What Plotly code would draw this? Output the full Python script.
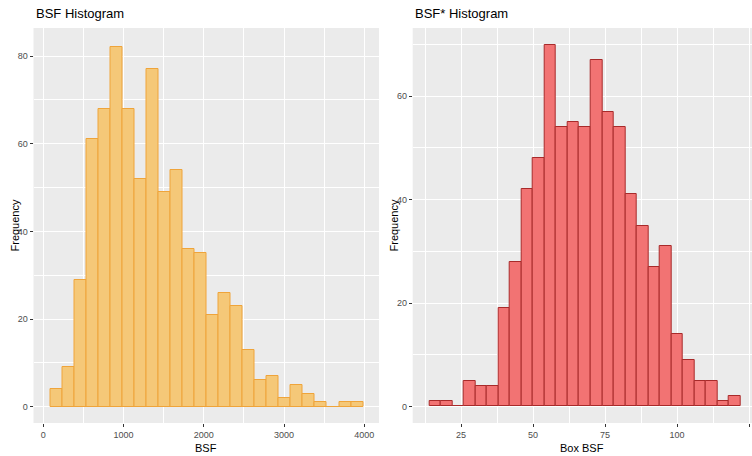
import plotly.graph_objects as go

# ---- data ----
bsf_bin_start = 85
bsf_bin_width = 150
bsf_counts = [4, 9, 29, 61, 68, 82, 68, 52, 77, 49, 54, 36, 35, 21, 26, 23,
              13, 6, 7, 2, 5, 3, 1, 0, 1, 1]

box_bin_start = 14
box_bin_width = 4
box_counts = [1, 1, 0, 5, 4, 4, 19, 28, 42, 48, 70, 54, 55, 54, 67, 57, 54,
              41, 35, 27, 31, 14, 9, 5, 5, 1, 2]

left_title = "BSF Histogram"
right_title = "BSF* Histogram"
left_xlabel = "BSF"
right_xlabel = "Box BSF"
ylabel = "Frequency"

bsf_x = [bsf_bin_start + bsf_bin_width * (i + 0.5) for i in range(len(bsf_counts))]
box_x = [box_bin_start + box_bin_width * (i + 0.5) for i in range(len(box_counts))]

W, H = 752, 456
FONT = "Liberation Sans, Arial, sans-serif"

fig = go.Figure()
fig.add_trace(go.Bar(x=bsf_x, y=bsf_counts, width=bsf_bin_width,
                     marker=dict(color="#F5C878", line=dict(color="#EFA43A", width=1)),
                     xaxis="x", yaxis="y", showlegend=False))
fig.add_trace(go.Bar(x=box_x, y=box_counts, width=box_bin_width,
                     marker=dict(color="#F27373", line=dict(color="#A82A2A", width=1)),
                     xaxis="x2", yaxis="y2", showlegend=False))

px = lambda p: p / W
common_axis = dict(
    showgrid=True, gridcolor="white", gridwidth=1.1,
    zeroline=False, showline=False,
    ticks="outside", ticklen=3, tickcolor="#333333", tickwidth=1,
    tickfont=dict(family=FONT, size=9, color="#4D4D4D"),
)

fig.update_layout(
    width=W, height=H,
    margin=dict(l=0, r=0, t=28, b=33),
    paper_bgcolor="white",
    plot_bgcolor="#EBEBEB",
    bargap=0,
    font=dict(family=FONT),
    xaxis=dict(domain=[px(33.5), px(379)], range=[-122, 4183], anchor="y",
               tick0=0, dtick=1000,
               minor=dict(dtick=500, tick0=0, showgrid=True, gridcolor="white", gridwidth=0.5, ticks=""),
               **common_axis),
    yaxis=dict(domain=[0, 1], range=[-3.7, 86.4], anchor="x",
               tick0=0, dtick=20,
               minor=dict(dtick=10, tick0=0, showgrid=True, gridcolor="white", gridwidth=0.5, ticks=""),
               **common_axis),
    xaxis2=dict(domain=[px(412.7), 1.0], range=[8.2, 126.0], anchor="y2",
                tick0=0, dtick=25,
                minor=dict(dtick=12.5, tick0=0, showgrid=True, gridcolor="white", gridwidth=0.5, ticks=""),
                **common_axis),
    yaxis2=dict(domain=[0, 1], range=[-3.2, 73.2], anchor="x2",
                tick0=0, dtick=20,
                minor=dict(dtick=10, tick0=0, showgrid=True, gridcolor="white", gridwidth=0.5, ticks=""),
                **common_axis),
)

ann = []
ann.append(dict(text=left_title, x=px(34), y=1, xref="paper", yref="paper",
                xanchor="left", yanchor="bottom", yshift=5, showarrow=False,
                font=dict(family=FONT, size=13, color="black")))
ann.append(dict(text=right_title, x=px(413), y=1, xref="paper", yref="paper",
                xanchor="left", yanchor="bottom", yshift=5, showarrow=False,
                font=dict(family=FONT, size=13, color="black")))
ann.append(dict(text=left_xlabel, x=(px(33.5) + px(379)) / 2, y=0, xref="paper", yref="paper",
                xanchor="center", yanchor="top", yshift=-17, showarrow=False,
                font=dict(family=FONT, size=11, color="black")))
ann.append(dict(text=right_xlabel, x=(px(412.7) + px(752)) / 2, y=0, xref="paper", yref="paper",
                xanchor="center", yanchor="top", yshift=-17, showarrow=False,
                font=dict(family=FONT, size=11, color="black")))
for xpos in (px(14), px(393)):
    ann.append(dict(text=ylabel, x=xpos, y=0.5, xref="paper", yref="paper",
                    xanchor="center", yanchor="middle", textangle=-90, showarrow=False,
                    font=dict(family=FONT, size=11, color="black")))
fig.update_layout(annotations=ann)

fig.write_html("out.html")
